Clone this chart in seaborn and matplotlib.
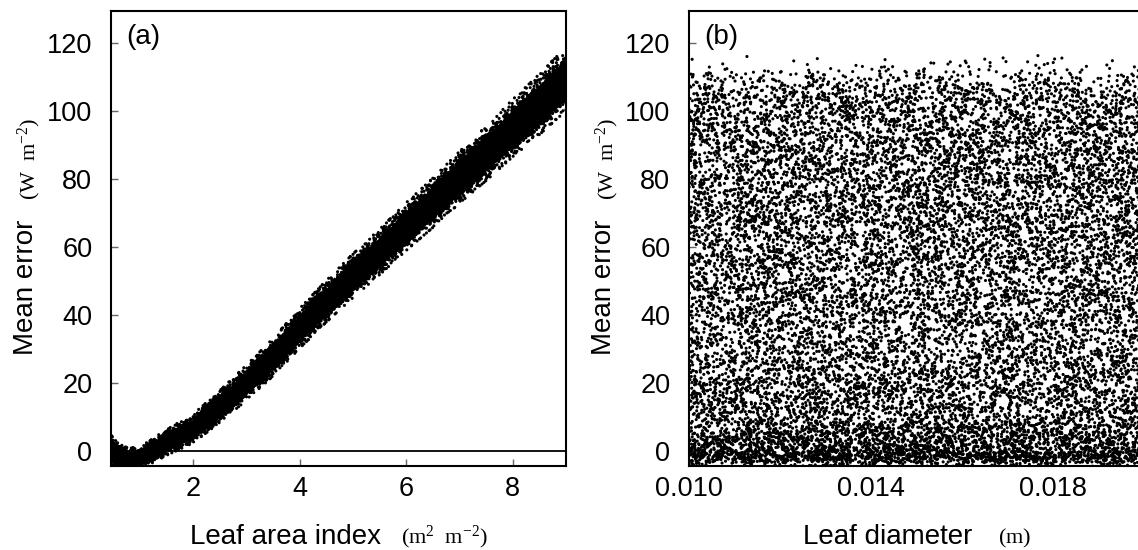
import numpy as np
import pandas as pd
import matplotlib
matplotlib.use("Agg")
import matplotlib.pyplot as plt
import seaborn as sns

# ---- data ----
# panel (a): centre and half-thickness of the point band vs leaf area index
lai_knots = [0.46, 0.6, 0.8, 1.0, 1.25, 1.5, 2.0, 2.5, 3.0, 3.5, 4.0, 4.5,
             5.0, 5.5, 6.0, 6.5, 7.0, 7.5, 8.0, 8.5, 9.0]
err_centre = [0.5, -1.5, -2.5, -2.0, 0.0, 2.5, 6.5, 13.0, 20.0, 27.5, 36.0, 44.0,
              51.5, 58.5, 66.0, 73.0, 80.5, 87.5, 95.0, 102.0, 109.5]
err_halfwidth = [3.5, 3.0, 2.7, 2.7, 3.0, 3.3, 3.6, 4.0, 4.4, 4.7, 5.0, 5.2,
                 5.5, 5.7, 6.0, 6.2, 6.5, 6.8, 7.2, 7.6, 8.0]
# sampled ranges of the Monte Carlo inputs
lai_range = [0.46, 9.0]
diam_range = [0.010, 0.020]
n_runs = 16000

yticks = [0, 20, 40, 60, 80, 100, 120]
xticks_a = [2, 4, 6, 8]
xticks_b = [0.010, 0.014, 0.018]
xticks_b_minor = [0.012, 0.016]
xticklabels_b = ["0.010", "0.014", "0.018"]

# ---- sample cloud within the envelope ----
rng = np.random.default_rng(11)
lai = rng.uniform(lai_range[0], lai_range[1], n_runs)
diam = rng.uniform(diam_range[0], diam_range[1], n_runs)
err = np.interp(lai, lai_knots, err_centre) + \
    np.clip(rng.normal(0, 1, n_runs), -2.6, 2.6) * np.interp(lai, lai_knots, err_halfwidth) * 0.45
df = pd.DataFrame({"lai": lai, "diam": diam, "err": err})

sns.set_theme(style="white")
plt.rcParams["font.family"] = ["Liberation Sans", "DejaVu Sans"]
plt.rcParams["mathtext.fontset"] = "custom"
plt.rcParams["mathtext.rm"] = "Liberation Serif"
plt.rcParams["mathtext.it"] = "Liberation Serif:italic"
plt.rcParams["text.color"] = "black"
plt.rcParams["axes.labelcolor"] = "black"

W, H = 1138, 550
fig = plt.figure(figsize=(W / 100, H / 100), dpi=100)
fig.patch.set_facecolor("white")

def px_axes(l, t, r, b):
    return fig.add_axes([l / W, 1 - b / H, (r - l) / W, (b - t) / H])

axa = px_axes(111, 11, 566, 466)
axb = px_axes(689, 11, 1144, 466)

YLIM = (-4.5, 129.5)
TICK_FS = 19.5
LAB_FS = 20
UNIT_FS = 16

# panel (a)
knots = np.array(lai_knots)
c = np.array(err_centre)
hw = np.array(err_halfwidth)
axa.fill_between(knots, c - 0.75 * hw, c + 0.75 * hw, color="black", lw=0, zorder=2)
sns.scatterplot(data=df, x="lai", y="err", ax=axa, s=5, color="black",
                edgecolor="none", linewidth=0, legend=False, zorder=3)
axa.axhline(0, color="black", lw=1.3, zorder=4)
axa.set_xlim(lai_range)
axa.set_ylim(YLIM)
axa.set_xticks(xticks_a)
axa.set_xticklabels([str(v) for v in xticks_a])

# panel (b)
sns.scatterplot(data=df, x="diam", y="err", ax=axb, s=5, color="black",
                edgecolor="none", linewidth=0, legend=False, zorder=3)
axb.set_xlim(diam_range)
axb.set_ylim(YLIM)
axb.set_xticks(xticks_b)
axb.set_xticklabels(xticklabels_b)
axb.set_xticks(xticks_b_minor, minor=True)

for ax in (axa, axb):
    ax.set_xlabel("")
    ax.set_ylabel("")
    ax.set_yticks(yticks)
    ax.set_yticklabels([str(v) for v in yticks])
    ax.tick_params(axis="both", which="both", direction="in", length=5, width=1,
                   color="#666666", labelsize=TICK_FS, labelcolor="black")
    ax.tick_params(axis="y", pad=13.5)
    ax.tick_params(axis="x", pad=7.5)
    ax.tick_params(top=False, right=False, left=True, bottom=True)
    for sp in ax.spines.values():
        sp.set_color("black")
        sp.set_linewidth(1.5)
        sp.set_visible(True)
    ax.set_facecolor("white")

axa.text(0.033, 0.942, "(a)", transform=axa.transAxes, fontsize=LAB_FS,
         ha="left", va="center", color="black")
axb.text(0.033, 0.942, "(b)", transform=axb.transAxes, fontsize=LAB_FS,
         ha="left", va="center", color="black")

# axis labels (main text + smaller units) placed in pixel coordinates
def ftext(x, y, s, **kw):
    fig.text(x / W, 1 - y / H, s, color="black", **kw)

# y labels
for off in (0, 578):
    ftext(33 + off, 287, "Mean error", fontsize=LAB_FS, rotation=90,
          rotation_mode="anchor", ha="center", va="baseline")
    ftext(35 + off, 159, r"$\mathrm{(W\ \ m^{-2})}$", fontsize=UNIT_FS, rotation=90,
          rotation_mode="anchor", ha="center", va="baseline")

# x labels
ftext(190, 544, "Leaf area index", fontsize=LAB_FS, ha="left", va="baseline")
ftext(401, 543, r"$\mathrm{(m^{2}\ \ m^{-2})}$", fontsize=UNIT_FS, ha="left", va="baseline")
ftext(803, 544, "Leaf diameter", fontsize=LAB_FS, ha="left", va="baseline")
ftext(998, 543, r"$\mathrm{(m)}$", fontsize=UNIT_FS, ha="left", va="baseline")

fig.savefig("out.png", dpi=100, facecolor="white")
